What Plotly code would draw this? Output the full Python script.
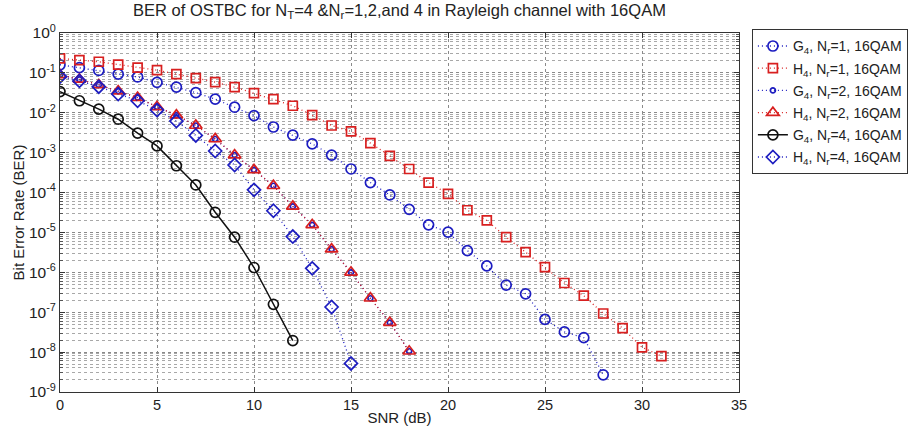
import plotly.graph_objects as go

# ---- data (BER) ----
snr_g4_nr1 = list(range(0, 29))
ber_g4_nr1 = [1.6e-1, 1.35e-1, 1.15e-1, 9.3e-2, 7.9e-2, 5.8e-2, 4.4e-2, 3.2e-2, 2.2e-2, 1.38e-2,
              8.5e-3, 4.4e-3, 2.75e-3, 1.66e-3, 8.7e-4, 3.9e-4, 1.78e-4, 8.7e-5, 3.8e-5, 1.55e-5,
              1.02e-5, 3.5e-6, 1.45e-6, 4.8e-7, 2.9e-7, 6.6e-8, 3.2e-8, 2.3e-8, 2.7e-9]

snr_h4_nr1 = list(range(0, 32))
ber_h4_nr1 = [2.3e-1, 2.1e-1, 1.9e-1, 1.62e-1, 1.35e-1, 1.17e-1, 9.3e-2, 7.4e-2, 5.9e-2, 4.4e-2,
              3.1e-2, 2.2e-2, 1.5e-2, 8.7e-3, 4.8e-3, 3.4e-3, 1.74e-3, 8.3e-4, 3.9e-4, 1.78e-4,
              9.3e-5, 3.6e-5, 2.0e-5, 7.6e-6, 3.2e-6, 1.35e-6, 5.4e-7, 2.6e-7, 9.3e-8, 4.0e-8,
              1.32e-8, 7.9e-9]

snr_g4_nr2 = list(range(0, 19))
ber_g4_nr2 = [8.9e-2, 6.9e-2, 5.0e-2, 3.5e-2, 2.4e-2, 1.41e-2, 8.7e-3, 4.8e-3, 2.2e-3, 8.7e-4,
              3.7e-4, 1.48e-4, 4.5e-5, 1.55e-5, 3.8e-6, 1.0e-6, 2.24e-7, 5.5e-8, 1.05e-8]

snr_h4_nr2 = list(range(0, 19))
ber_h4_nr2 = [8.9e-2, 6.9e-2, 5.0e-2, 3.5e-2, 2.4e-2, 1.41e-2, 8.7e-3, 4.8e-3, 2.2e-3, 8.7e-4,
              3.7e-4, 1.48e-4, 4.5e-5, 1.55e-5, 3.8e-6, 1.0e-6, 2.24e-7, 5.5e-8, 1.05e-8]

snr_g4_nr4 = list(range(0, 13))
ber_g4_nr4 = [3.4e-2, 2.0e-2, 1.23e-2, 6.9e-3, 3.1e-3, 1.48e-3, 4.7e-4, 1.55e-4, 3.2e-5, 7.6e-6,
              1.32e-6, 1.58e-7, 1.95e-8]

snr_h4_nr4 = list(range(0, 16))
ber_h4_nr4 = [8.1e-2, 6.3e-2, 4.5e-2, 2.95e-2, 2.0e-2, 1.17e-2, 6.2e-3, 2.7e-3, 1.1e-3, 4.9e-4,
              1.17e-4, 3.5e-5, 7.9e-6, 1.26e-6, 1.35e-7, 5.2e-9]

xticks = [0, 5, 10, 15, 20, 25, 30, 35]
yexp = list(range(-9, 1))

BLUE = "#1c1cc0"
RED = "#d81f1f"
BLACK = "#111111"
FONT = "Liberation Sans, Arial, sans-serif"

fig = go.Figure()

def add(x, y, name, color, symbol, size, dash, width=1.3):
    fig.add_trace(go.Scatter(
        x=x, y=y, name=name, mode="lines+markers", legendgroup=name,
        line=dict(color=color, width=width, dash=dash),
        marker=dict(symbol=symbol, size=size, color=color,
                    line=dict(color=color, width=1.7)),
    ))

DOT = "1px,3px"
add(snr_g4_nr1, ber_g4_nr1, "G<sub>4</sub>, N<sub>r</sub>=1, 16QAM", BLUE, "circle-open", 10, DOT)
add(snr_h4_nr1, ber_h4_nr1, "H<sub>4</sub>, N<sub>r</sub>=1, 16QAM", RED, "square-open", 9, DOT)
add(snr_g4_nr2, ber_g4_nr2, "G<sub>4</sub>, N<sub>r</sub>=2, 16QAM", BLUE, "circle-open", 5, DOT)
add(snr_h4_nr2, ber_h4_nr2, "H<sub>4</sub>, N<sub>r</sub>=2, 16QAM", RED, "triangle-up-open", 11, DOT)
add(snr_g4_nr4, ber_g4_nr4, "G<sub>4</sub>, N<sub>r</sub>=4, 16QAM", BLACK, "circle-open", 10, "solid", 1.5)
add(snr_h4_nr4, ber_h4_nr4, "H<sub>4</sub>, N<sub>r</sub>=4, 16QAM", BLUE, "diamond-open", 10, DOT)

minor_vals = [k * 10.0 ** e for e in range(-9, 0) for k in range(2, 10)]

fig.update_layout(
    width=917, height=426,
    margin=dict(l=60, r=178, t=33, b=34, autoexpand=False),
    paper_bgcolor="white", plot_bgcolor="white",
    font=dict(family=FONT, size=15, color="#222"),
    title=dict(text="BER of OSTBC for N<sub>T</sub>=4 &N<sub>r</sub>=1,2,and 4 in Rayleigh channel with 16QAM",
               x=0.5, xref="paper", xanchor="center", y=0.99, yanchor="top",
               font=dict(size=16.5, family=FONT, color="#222")),
    legend=dict(x=1.019, y=1.01, xanchor="left", yanchor="top",
                bordercolor="#333", borderwidth=1, bgcolor="white",
                font=dict(size=14, family=FONT, color="#222"),
                tracegroupgap=1, itemwidth=30),
    showlegend=True,
)

fig.update_xaxes(
    range=[0, 35], tickvals=xticks, ticktext=[str(v) for v in xticks],
    showline=True, linecolor="#333", linewidth=1, mirror="ticks",
    ticks="inside", ticklen=5, tickcolor="#333",
    showgrid=True, gridcolor="#8a8a8a", griddash="dot", gridwidth=1,
    zeroline=False,
    title=dict(text="SNR (dB)", standoff=0, font=dict(size=15)),
    tickfont=dict(size=14.5),
)

fig.update_yaxes(
    type="log", range=[-9, 0],
    tickvals=[10.0 ** e for e in yexp],
    ticktext=["10<sup>%d</sup>" % e for e in yexp],
    showline=True, linecolor="#333", linewidth=1, mirror="ticks",
    ticks="inside", ticklen=5, tickcolor="#333",
    showgrid=True, gridcolor="#8a8a8a", griddash="dot", gridwidth=1,
    minor=dict(tickvals=minor_vals, showgrid=True, gridcolor="#a8a8a8",
               griddash="dot", gridwidth=1, ticks="inside", ticklen=3, tickcolor="#555"),
    zeroline=False,
    title=dict(text="Bit Error Rate (BER)", standoff=0, font=dict(size=15)),
    tickfont=dict(size=15.5),
)

fig.write_html("out.html")
